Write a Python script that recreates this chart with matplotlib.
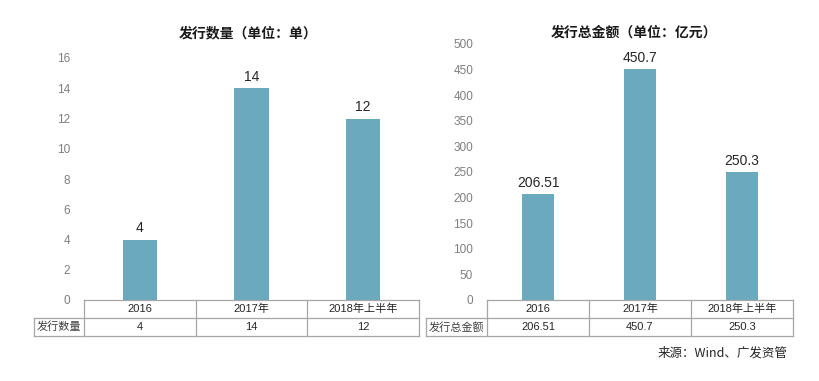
import matplotlib
matplotlib.use("Agg")
import matplotlib.pyplot as plt

plt.rcParams['font.family'] = ['Liberation Sans', 'Noto Sans CJK SC', 'DejaVu Sans']

categories = ['2016', '2017年', '2018年上半年']
counts = [4, 14, 12]
count_labels = ['4', '14', '12']
amounts = [206.51, 450.7, 250.3]
amount_labels = ['206.51', '450.7', '250.3']

title_left = '发行数量（单位：单）'
title_right = '发行总金额（单位：亿元）'
row_left = '发行数量'
row_right = '发行总金额'
source = '来源：Wind、广发资管'

CJK = ['Noto Sans CJK SC', 'DejaVu Sans']

W, H = 819, 381
fig = plt.figure(figsize=(W / 100, H / 100), dpi=100)

bar_color = '#6BA9BF'
grid_color = '#A6A6A6'
tick_color = '#7F7F7F'


def make_axes(x0, x1, ytop, ybot):
    return fig.add_axes([x0 / W, (H - ybot) / H, (x1 - x0) / W, (ybot - ytop) / H])


def draw_chart(ax, px_w, px_h, vals, labels, ymax, ystep, rowname, head_px, label_off):
    x = list(range(len(categories)))
    ax.bar(x, vals, width=0.31, color=bar_color, zorder=2)
    ax.set_xlim(-0.5, len(categories) - 0.5)
    ax.set_ylim(0, ymax)
    ax.set_yticks([i * ystep for i in range(int(ymax / ystep) + 1)])
    ax.tick_params(axis='y', length=0, pad=10, labelsize=8.5, labelcolor=tick_color)
    ax.set_xticks([])
    for s in ax.spines.values():
        s.set_visible(False)
    for xi, v, lab in zip(x, vals, labels):
        ax.annotate(lab, (xi, v), xytext=(0, label_off), textcoords='offset points',
                    ha='center', va='bottom', fontsize=10, color='#262626')
    # table
    rh = 18 / px_h
    hx = -head_px / px_w
    kw = dict(transform=ax.transAxes, color=grid_color, lw=0.9, clip_on=False)
    ax.plot([0, 1], [0, 0], **kw)
    ax.plot([hx, 1], [-rh, -rh], **kw)
    ax.plot([hx, 1], [-2 * rh, -2 * rh], **kw)
    ax.plot([hx, hx], [-rh, -2 * rh], **kw)
    n = len(categories)
    for i in range(n + 1):
        ax.plot([i / n, i / n], [0, -2 * rh], **kw)
    for i, (c, lab) in enumerate(zip(categories, labels)):
        cx = (i + 0.5) / n
        ax.text(cx, -0.5 * rh, c, transform=ax.transAxes, ha='center', va='center',
                fontsize=8, color='#262626')
        ax.text(cx, -1.5 * rh, lab, transform=ax.transAxes, ha='center', va='center',
                fontsize=8, color='#262626')
    ax.text(hx / 2, -1.5 * rh, rowname, transform=ax.transAxes, ha='center', va='center',
            fontsize=8, color='#404040', family=CJK)


axL = make_axes(84, 419, 58, 300)
draw_chart(axL, 335, 242, counts, count_labels, 16, 2, row_left, 50, 3)
axR = make_axes(487, 793, 44, 300)
draw_chart(axR, 306, 256, amounts, amount_labels, 500, 50, row_right, 61, 3)

fig.text(248 / W, 1 - 33 / H, title_left, ha='center', va='center', fontsize=10,
         fontweight='bold', color='#1a1a1a', family=CJK)
fig.text(634 / W, 1 - 33 / H, title_right, ha='center', va='center', fontsize=10,
         fontweight='bold', color='#1a1a1a', family=CJK)
fig.text(787 / W, 1 - 353 / H, source, ha='right', va='center', fontsize=9,
         color='#262626', family=CJK)

fig.savefig('out.png', dpi=100)
